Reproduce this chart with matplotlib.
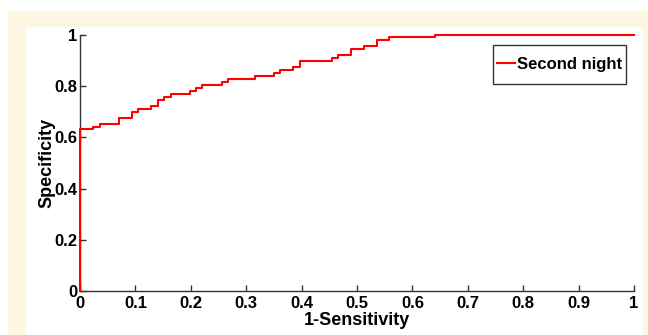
import matplotlib
matplotlib.use("Agg")
import matplotlib.pyplot as plt
from matplotlib.patches import Rectangle

# ROC-style step curve
fpr = [0, 0, 0.023, 0.036, 0.070, 0.094, 0.105, 0.129, 0.140, 0.152, 0.164,
       0.199, 0.210, 0.221, 0.257, 0.268, 0.315, 0.350, 0.361, 0.384, 0.397,
       0.454, 0.465, 0.489, 0.512, 0.536, 0.558, 0.640, 1.0]
spec = [0, 0.631, 0.642, 0.652, 0.676, 0.699, 0.711, 0.723, 0.746, 0.758, 0.770,
        0.782, 0.793, 0.805, 0.817, 0.827, 0.840, 0.852, 0.863, 0.875, 0.898,
        0.910, 0.922, 0.945, 0.957, 0.979, 0.991, 1.0, 1.0]
series_label = "Second night"
xticks = [0, 0.1, 0.2, 0.3, 0.4, 0.5, 0.6, 0.7, 0.8, 0.9, 1]
xticklabels = ["0", "0.1", "0.2", "0.3", "0.4", "0.5", "0.6", "0.7", "0.8", "0.9", "1"]
yticks = [0, 0.2, 0.4, 0.6, 0.8, 1]
yticklabels = ["0", "0.2", "0.4", "0.6", "0.8", "1"]

plt.rcParams['font.family'] = ['Liberation Sans', 'DejaVu Sans']
plt.rcParams['font.weight'] = 'bold'

W, H = 648, 335
fig = plt.figure(figsize=(W / 100, H / 100), dpi=100, facecolor='white')

# cream frame and white panel
fig.patches.append(Rectangle((8 / W, 0), 1 - 8 / W, (H - 11) / H,
                             transform=fig.transFigure, facecolor='#fdf7e1',
                             edgecolor='none', zorder=-2))
fig.patches.append(Rectangle((26 / W, 0), (643 - 26) / W, (H - 27) / H,
                             transform=fig.transFigure, facecolor='white',
                             edgecolor='none', zorder=-1))

x0, x1 = 80, 634
y1, y0 = 35, 291
ax = fig.add_axes([x0 / W, (H - y0) / H, (x1 - x0) / W, (y0 - y1) / H])
ax.set_zorder(1)
ax.patch.set_alpha(0)

ax.plot(fpr, spec, drawstyle='steps-post', color='#ff0000', lw=1.5,
        label=series_label, clip_on=False, zorder=3)

ax.set_xlim(0, 1)
ax.set_ylim(0, 1)
ax.set_xticks(xticks)
ax.set_xticklabels(xticklabels)
ax.set_yticks(yticks)
ax.set_yticklabels(yticklabels)
for s in ['top', 'right']:
    ax.spines[s].set_visible(False)
for s in ['left', 'bottom']:
    ax.spines[s].set_color('#333333')
    ax.spines[s].set_linewidth(1.0)
ax.tick_params(direction='in', length=4.5, width=1, color='#333333',
               labelsize=12, labelcolor='black')
ax.tick_params(axis='x', pad=3.5)
ax.tick_params(axis='y', pad=2)
for lab in ax.get_xticklabels() + ax.get_yticklabels():
    lab.set_fontweight('bold')

ax.set_xlabel('1-Sensitivity', fontsize=13, fontweight='bold', labelpad=0.5)
ax.set_ylabel('Specificity', fontsize=13, fontweight='bold', labelpad=-1)

# legend (frameless), with a hand-padded rectangular frame around it
leg = ax.legend(loc='upper right',
                bbox_to_anchor=((622 - x0) / (x1 - x0), (y0 - 57) / (y0 - y1)),
                borderaxespad=0, frameon=False, borderpad=0,
                prop={'family': 'Liberation Sans', 'weight': 'bold', 'size': 12},
                handlelength=1.1, handletextpad=0.1)
fig.canvas.draw()
bb = leg.get_window_extent()
padx, pady = 4, 12
frame = Rectangle((bb.x0 - padx, bb.y0 - pady), bb.width + 2 * padx, bb.height + 2 * pady,
                  transform=None, facecolor='white', edgecolor='#333333',
                  linewidth=1.0, zorder=4)
ax.add_artist(frame)
leg.set_zorder(5)

fig.savefig('out.png', dpi=100, facecolor='white')
